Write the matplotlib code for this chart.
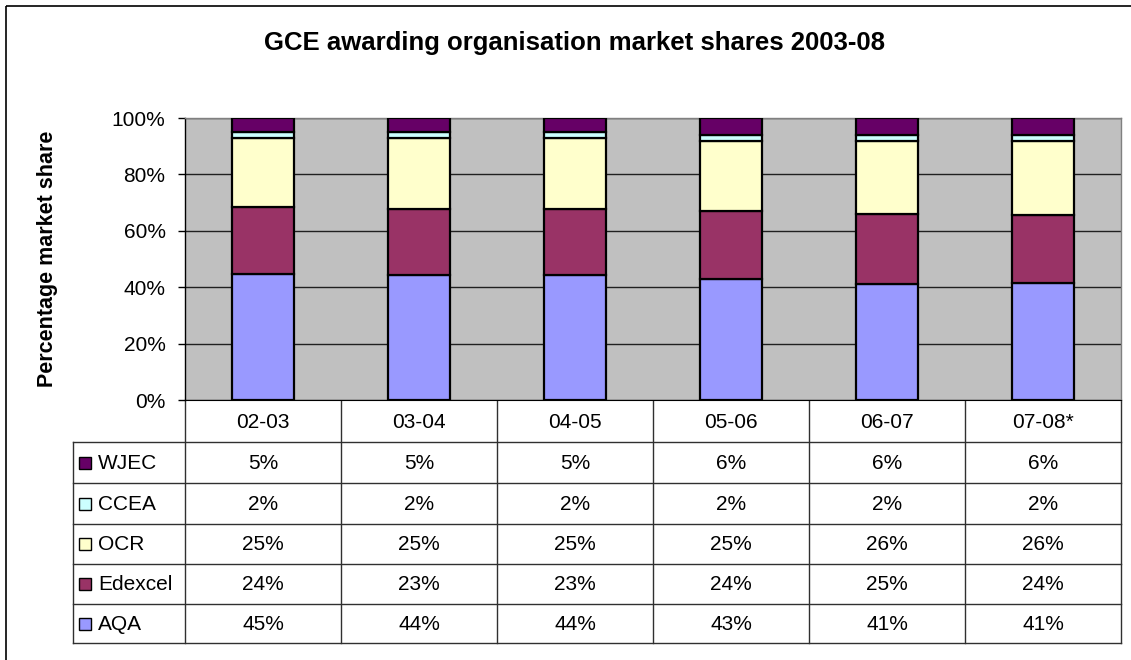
import matplotlib
matplotlib.use("Agg")
import matplotlib.pyplot as plt
import numpy as np
from matplotlib.patches import Rectangle

plt.rcParams['font.family'] = ['Liberation Sans', 'DejaVu Sans']

years = ["02-03", "03-04", "04-05", "05-06", "06-07", "07-08*"]
aqa = [45, 44, 44, 43, 41, 41]
edexcel = [24, 23, 23, 24, 25, 24]
ocr = [25, 25, 25, 25, 26, 26]
ccea = [2, 2, 2, 2, 2, 2]
wjec = [5, 5, 5, 6, 6, 6]

series_names = ["AQA", "Edexcel", "OCR", "CCEA", "WJEC"]
series_vals = [aqa, edexcel, ocr, ccea, wjec]
colors = ["#9999FF", "#993366", "#FFFFCC", "#CCFFFF", "#660066"]

W, H = 1131, 660
fig = plt.figure(figsize=(W / 100, H / 100), dpi=100)
fig.patch.set_facecolor("white")

# plot area, pixel box
px_l, px_r, px_t, px_b = 185, 1121, 118, 400
ax = fig.add_axes([px_l / W, 1 - px_b / H, (px_r - px_l) / W, (px_b - px_t) / H])
ax.set_facecolor("#C0C0C0")

vals = np.array(series_vals, dtype=float)
shares = vals / vals.sum(axis=0) * 100  # 100% stacked
x = np.arange(len(years))
bottom = np.zeros(len(years))
for name, s, c in zip(series_names, shares, colors):
    ax.bar(x, s, bottom=bottom, width=0.4, color=c, edgecolor="black",
           linewidth=1.6, zorder=3)
    bottom += s

ax.set_xlim(-0.5, len(years) - 0.5)
ax.set_ylim(0, 100)
ax.set_yticks(np.arange(0, 101, 20))
ax.set_yticklabels([f"{v}%" for v in range(0, 101, 20)], fontsize=15)
ax.set_xticks([])
ax.yaxis.grid(True, color="#202020", linewidth=1.0, zorder=1)
ax.set_axisbelow(True)
ax.tick_params(axis="y", length=5, width=1, pad=9, direction="out")
ax.spines["left"].set_color("black")
ax.spines["left"].set_linewidth(1.0)
for sp in ["top", "right"]:
    ax.spines[sp].set_color("#808080")
    ax.spines[sp].set_linewidth(1.0)
ax.spines["bottom"].set_color("black")
ax.set_ylabel("Percentage market share", fontsize=15.5, fontweight="bold")
ax.yaxis.set_label_coords((58 - px_l) / (px_r - px_l), 0.5)

# overlay in pixel coordinates for title, border and data table
ov = fig.add_axes([0, 0, 1, 1], zorder=-1)
ov.set_xlim(0, W)
ov.set_ylim(H, 0)
ov.axis("off")
ov.patch.set_alpha(0)

ov.add_patch(Rectangle((6, 6), W + 10, H + 10, fill=False, edgecolor="black",
                       linewidth=1.2, clip_on=False))
ov.text(575, 43, "GCE awarding organisation market shares 2003-08",
        ha="center", va="center", fontsize=18.5, fontweight="bold")

# table geometry
col_w = (px_r - px_l) / len(years)
col_edges = [px_l + i * col_w for i in range(len(years) + 1)]
row_edges = [400, 442, 483, 524, 564, 604, 643]
lab_l = 73
lc = "#303030"

for i, xe in enumerate(col_edges):
    ov.plot([xe, xe], [row_edges[0], row_edges[-1]], color=lc, lw=1.0)
ov.plot([lab_l, lab_l], [row_edges[1], row_edges[-1]], color=lc, lw=1.0)
for ye in row_edges[1:]:
    ov.plot([lab_l, px_r], [ye, ye], color=lc, lw=1.0)

for i, yr in enumerate(years):
    cx = (col_edges[i] + col_edges[i + 1]) / 2
    ov.text(cx, (row_edges[0] + row_edges[1]) / 2 + 1, yr, ha="center",
            va="center", fontsize=15)

table_order = list(range(len(series_names)))[::-1]  # WJEC at top
for r, si in enumerate(table_order):
    cy = (row_edges[r + 1] + row_edges[r + 2]) / 2
    ov.add_patch(Rectangle((79, cy - 6), 12, 12, facecolor=colors[si],
                           edgecolor="black", linewidth=1.0))
    ov.text(98, cy + 1, series_names[si], ha="left", va="center", fontsize=15)
    for i in range(len(years)):
        cx = (col_edges[i] + col_edges[i + 1]) / 2
        ov.text(cx, cy + 1, f"{series_vals[si][i]}%", ha="center",
                va="center", fontsize=15)

fig.savefig("out.png", dpi=100)
